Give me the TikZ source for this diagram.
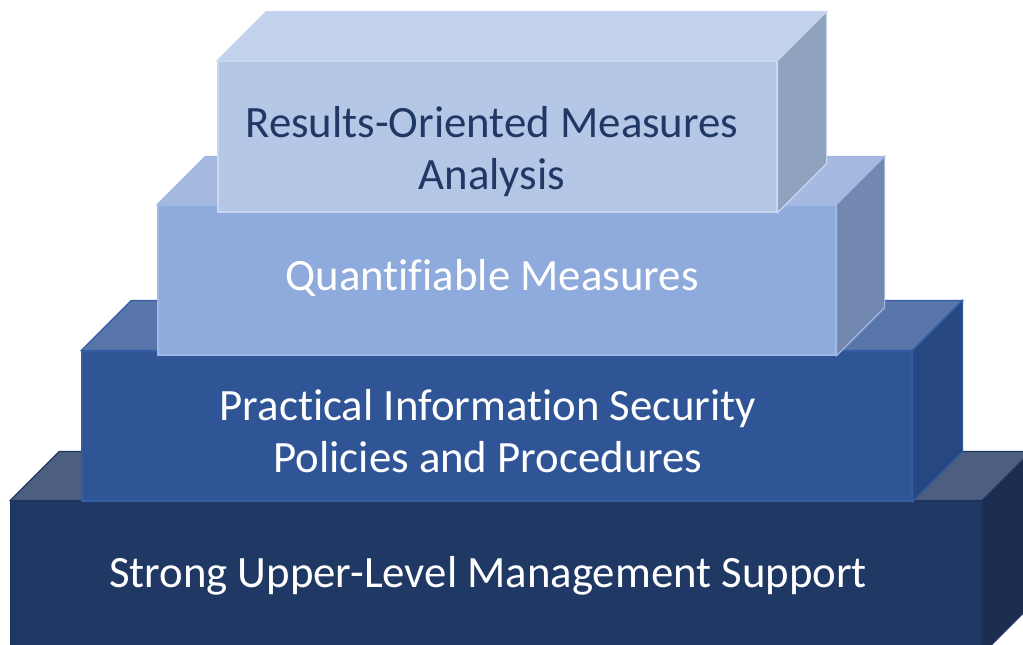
\documentclass[tikz,border=0pt]{standalone}
\usepackage{fontspec}
\setmainfont[Ligatures=NoCommon]{Carlito}
\usetikzlibrary{positioning}
\definecolor{resfront}{RGB}{180,199,231}
\definecolor{restop}{RGB}{194,209,236}
\definecolor{resside}{RGB}{143,162,190}
\definecolor{resedge}{RGB}{201,215,240}
\definecolor{quafront}{RGB}{143,170,220}
\definecolor{quatop}{RGB}{166,185,225}
\definecolor{quaside}{RGB}{115,136,176}
\definecolor{quaedge}{RGB}{160,184,228}
\definecolor{polfront}{RGB}{47,85,151}
\definecolor{poltop}{RGB}{88,118,170}
\definecolor{polside}{RGB}{38,71,128}
\definecolor{poledge}{RGB}{52,92,162}
\definecolor{mgmfront}{RGB}{32,56,100}
\definecolor{mgmtop}{RGB}{77,95,128}
\definecolor{mgmside}{RGB}{27,45,80}
\definecolor{mgmedge}{RGB}{30,52,94}
\definecolor{navytext}{RGB}{31,56,100}

\tikzset{
  face/.style={rectangle, inner sep=0pt, line width=1.2pt},
  layertext/.style={align=center, font=\fontsize{44.8}{52}\selectfont},
}

\begin{document}
\begin{tikzpicture}[x=1pt, y=-1pt, line join=miter]

    \useasboundingbox (0,0) rectangle (1023,645);
    \clip (0,0) rectangle (1023,645);

    % bottom layer
    \node[face, fill=mgmfront, draw=mgmedge, minimum width=971pt, minimum height=152pt] (mgm) at (496.5,577) {};
    \filldraw[fill=mgmtop, draw=mgmedge, line width=1.2pt] (mgm.north west) -- ++(49,-49) -- ([shift={(49,-49)}]mgm.north east) -- (mgm.north east) -- cycle;
    \filldraw[fill=mgmside, draw=mgmedge, line width=1.2pt] (mgm.north east) -- ++(49,-49) -- ([shift={(49,-49)}]mgm.south east) -- (mgm.south east) -- cycle;
    \node[layertext, white] (mgmlabel) at (488,576) {Strong Upper-Level Management Support};

    % policies
    \node[face, fill=polfront, draw=poledge, minimum width=830pt, minimum height=150pt] (pol) at (497,426) {};
    \filldraw[fill=poltop, draw=poledge, line width=1.2pt] (pol.north west) -- ++(50,-50) -- ([shift={(50,-50)}]pol.north east) -- (pol.north east) -- cycle;
    \filldraw[fill=polside, draw=poledge, line width=1.2pt] (pol.north east) -- ++(50,-50) -- ([shift={(50,-50)}]pol.south east) -- (pol.south east) -- cycle;
    \node[layertext, white] (pollabel) at (488,431) {Practical Information Security\\Policies and Procedures};

    % quantifiable
    \node[face, fill=quafront, draw=quaedge, minimum width=678pt, minimum height=150pt] (qua) at (497,280) {};
    \filldraw[fill=quatop, draw=quaedge, line width=1.2pt] (qua.north west) -- ++(48,-48) -- ([shift={(48,-48)}]qua.north east) -- (qua.north east) -- cycle;
    \filldraw[fill=quaside, draw=quaedge, line width=1.2pt] (qua.north east) -- ++(48,-48) -- ([shift={(48,-48)}]qua.south east) -- (qua.south east) -- cycle;
    \node[layertext, white] (qualabel) at (492,278) {Quantifiable Measures};

    % results
    \node[face, fill=resfront, draw=resedge, minimum width=559pt, minimum height=151pt] (res) at (497.5,136.5) {};
    \filldraw[fill=restop, draw=resedge, line width=1.2pt] (res.north west) -- ++(49,-49) -- ([shift={(49,-49)}]res.north east) -- (res.north east) -- cycle;
    \filldraw[fill=resside, draw=resedge, line width=1.2pt] (res.north east) -- ++(49,-49) -- ([shift={(49,-49)}]res.south east) -- (res.south east) -- cycle;
    \node[layertext, navytext] (reslabel) at (492,152) {Results-Oriented Measures\\Analysis};

\end{tikzpicture}
\end{document}
